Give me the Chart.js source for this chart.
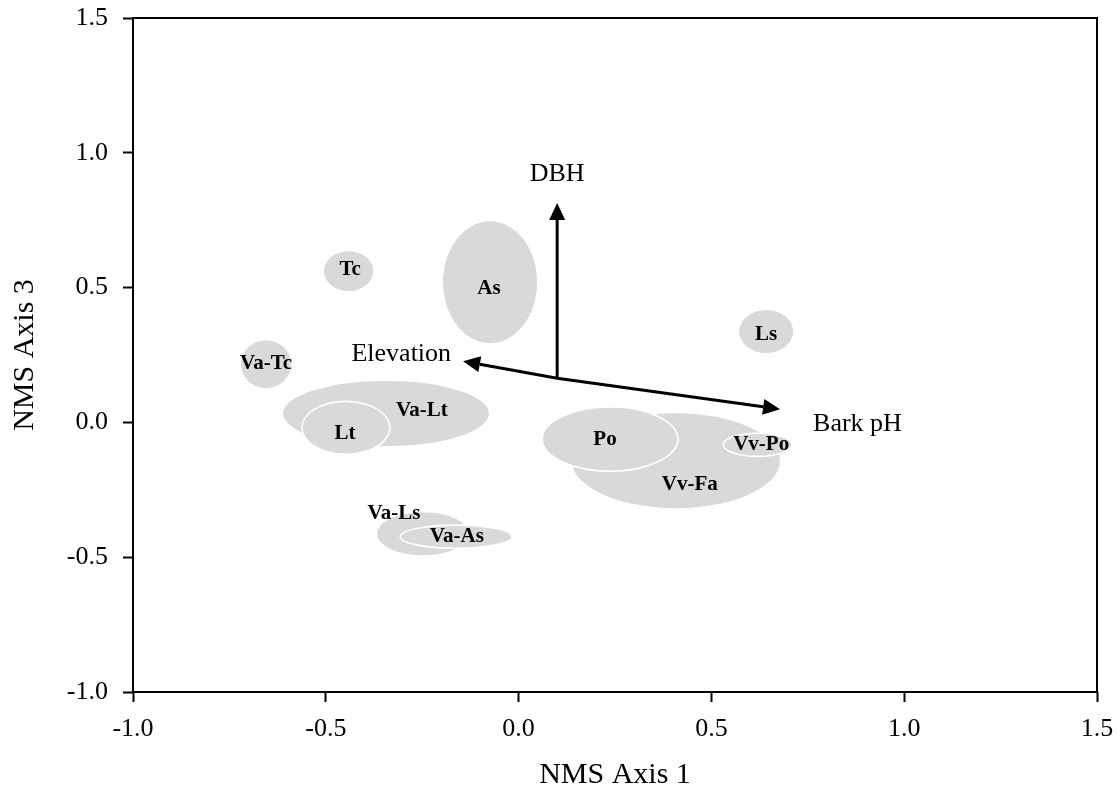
<!DOCTYPE html>
<html>
<head>
<meta charset="utf-8">
<title>NMS ordination</title>
<script src="https://cdn.jsdelivr.net/npm/chart.js@4.4.1/dist/chart.umd.min.js"></script>
<style>
  html, body { margin: 0; padding: 0; background: #fff; }
  #wrap { width: 1117px; height: 788px; }
</style>
</head>
<body>
<div id="wrap"><canvas id="nms" width="1117" height="788"></canvas></div>
<script>
/* ===== NMS ordination: group ellipses + environmental vectors ===== */

// axis ticks
const xTicks = [-1.0, -0.5, 0.0, 0.5, 1.0, 1.5];
const yTicks = [-1.0, -0.5, 0.0, 0.5, 1.0, 1.5];

// group ellipses (NMS units), drawn in this order
const groups   = ['Tc', 'As', 'Va-Tc', 'Va-Lt', 'Lt', 'Va-Ls', 'Va-As', 'Vv-Fa', 'Po', 'Vv-Po', 'Ls'];
const centerX  = [-0.441, -0.074, -0.655, -0.344, -0.448, -0.248, -0.162, 0.408, 0.237, 0.620, 0.642];
const centerY  = [ 0.561,  0.520,  0.216,  0.033, -0.020, -0.413, -0.424, -0.142, -0.062, -0.083, 0.337];
const radiusX  = [ 0.064,  0.122,  0.065,  0.267,  0.114,  0.119,  0.145,  0.270,  0.176,  0.089, 0.070];
const radiusY  = [ 0.074,  0.226,  0.089,  0.121,  0.098,  0.080,  0.043,  0.176,  0.119,  0.043, 0.080];
const outlined = [false, false, false, false, true, false, true, false, true, true, false];
const labelX   = [-0.437, -0.077, -0.655, -0.251, -0.450, -0.323, -0.160, 0.444, 0.224, 0.629, 0.642];
const labelY   = [ 0.565,  0.498,  0.220,  0.045, -0.040, -0.337, -0.422, -0.229, -0.062, -0.081, 0.327];

// joint-plot vectors
const vecOrigin = [0.10, 0.164];
const vectors   = ['DBH', 'Elevation', 'Bark pH'];
const vecX      = [0.10, -0.144, 0.678];
const vecY      = [0.814, 0.227, 0.049];

const SERIF = '"Liberation Serif", "Times New Roman", serif';
const FILL = '#d9d9d9';

// where each vector label sits relative to its arrow tip (px)
const vecLabelStyle = {
  'DBH':       { dx: 0,   dy: -29, align: 'center' },
  'Elevation': { dx: -12, dy: -7,  align: 'right' },
  'Bark pH':   { dx: 33,  dy: 15,  align: 'left' }
};

function arrow(ctx, x0, y0, x1, y1) {
  const ang = Math.atan2(y1 - y0, x1 - x0);
  const hl = 17, hw = 8;
  const bx = x1 - hl * Math.cos(ang), by = y1 - hl * Math.sin(ang);
  ctx.beginPath();
  ctx.moveTo(x0, y0);
  ctx.lineTo(bx, by);
  ctx.stroke();
  ctx.beginPath();
  ctx.moveTo(x1, y1);
  ctx.lineTo(bx + hw * Math.sin(ang), by - hw * Math.cos(ang));
  ctx.lineTo(bx - hw * Math.sin(ang), by + hw * Math.cos(ang));
  ctx.closePath();
  ctx.fill();
}

const ordination = {
  id: 'ordination',
  beforeDatasetsDraw(chart) {
    const { ctx, scales: { x, y } } = chart;
    ctx.save();
    // ellipses
    groups.forEach((g, i) => {
      const cx = x.getPixelForValue(centerX[i]), cy = y.getPixelForValue(centerY[i]);
      const rx = Math.abs(x.getPixelForValue(centerX[i] + radiusX[i]) - cx);
      const ry = Math.abs(y.getPixelForValue(centerY[i] + radiusY[i]) - cy);
      ctx.beginPath();
      ctx.ellipse(cx, cy, rx, ry, 0, 0, Math.PI * 2);
      ctx.fillStyle = FILL;
      ctx.fill();
      if (outlined[i]) { ctx.strokeStyle = '#fff'; ctx.lineWidth = 1.6; ctx.stroke(); }
    });
    // vectors
    const ox = x.getPixelForValue(vecOrigin[0]), oy = y.getPixelForValue(vecOrigin[1]);
    ctx.strokeStyle = '#000'; ctx.fillStyle = '#000'; ctx.lineWidth = 3;
    vectors.forEach((v, i) => {
      const tx = x.getPixelForValue(vecX[i]), ty = y.getPixelForValue(vecY[i]);
      arrow(ctx, ox, oy, tx, ty);
      const s = vecLabelStyle[v];
      ctx.font = '26px ' + SERIF;
      ctx.textAlign = s.align; ctx.textBaseline = 'middle';
      ctx.fillText(v, tx + s.dx, ty + s.dy);
    });
    // group labels
    ctx.font = 'bold 21px ' + SERIF;
    ctx.textAlign = 'center'; ctx.textBaseline = 'middle';
    groups.forEach((g, i) => {
      ctx.fillText(g, x.getPixelForValue(labelX[i]), y.getPixelForValue(labelY[i]));
    });
    ctx.restore();
  },
  afterDraw(chart) {
    const { ctx, chartArea: a } = chart;
    ctx.save();
    ctx.strokeStyle = '#000'; ctx.lineWidth = 2;
    ctx.strokeRect(a.left, a.top, a.right - a.left, a.bottom - a.top);
    ctx.restore();
  }
};

const tickFont = { family: SERIF, size: 26 };
const axisGrid = { drawOnChartArea: false, drawTicks: true, tickLength: 10, tickWidth: 2, tickColor: '#000' };

new Chart(document.getElementById('nms'), {
  type: 'scatter',
  data: {
    datasets: [{
      data: groups.map((g, i) => ({ x: centerX[i], y: centerY[i] })),
      pointRadius: 0, pointHoverRadius: 0
    }]
  },
  options: {
    responsive: false, animation: false,
    layout: { padding: { left: 0, top: 18, right: 20, bottom: 0 } },
    plugins: { legend: { display: false }, tooltip: { enabled: false } },
    scales: {
      x: {
        type: 'linear', min: xTicks[0], max: xTicks[xTicks.length - 1],
        afterBuildTicks: s => { s.ticks = xTicks.map(v => ({ value: v })); },
        // fixed box; end labels overflow into the layout padding
        afterFit: s => { s.height = 96; s.paddingLeft = 0; s.paddingRight = 0; },
        ticks: { color: '#000', font: tickFont, padding: 12, maxRotation: 0, callback: v => Number(v).toFixed(1) },
        grid: axisGrid, border: { display: false },
        title: { display: true, text: 'NMS Axis 1', color: '#000', font: { family: SERIF, size: 30, lineHeight: 1 }, padding: { top: 0, bottom: -2 } }
      },
      y: {
        type: 'linear', min: yTicks[0], max: yTicks[yTicks.length - 1],
        afterBuildTicks: s => { s.ticks = yTicks.map(v => ({ value: v })); },
        afterFit: s => { s.width = 133; s.paddingTop = 0; s.paddingBottom = 0; },
        ticks: { color: '#000', font: tickFont, padding: 15, callback: v => Number(v).toFixed(1) },
        grid: axisGrid, border: { display: false },
        title: { display: true, text: 'NMS Axis 3', color: '#000', font: { family: SERIF, size: 30, lineHeight: 1 }, padding: { top: 10, bottom: 0 } }
      }
    }
  },
  plugins: [ordination]
});
</script>
</body>
</html>
